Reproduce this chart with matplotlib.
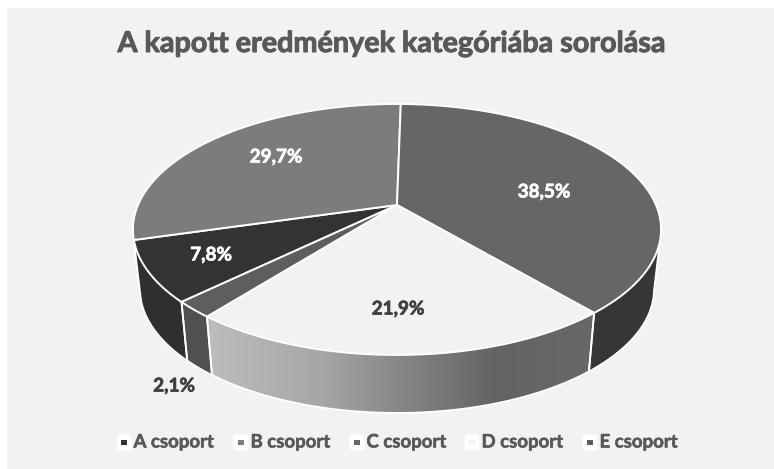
import numpy as np
import matplotlib
matplotlib.use("Agg")
import matplotlib.pyplot as plt
import matplotlib.patheffects as pe
from matplotlib.colors import LinearSegmentedColormap
from matplotlib.patches import Polygon, Rectangle, FancyBboxPatch

title = "A kapott eredmények kategóriába sorolása"
groups = ["A csoport", "B csoport", "C csoport", "D csoport", "E csoport"]
shares = [7.8, 29.7, 38.5, 21.9, 2.1]
share_labels = ["7,8%", "29,7%", "38,5%", "21,9%", "2,1%"]
top_colors = ["#333333", "#7c7c7c", "#666666", "#f2f2f2", "#5e5e5e"]
side_colors = ["#2f2f2f", "#555555", "#363634", None, "#505050"]
legend_colors = ["#333333", "#7c7c7c", "#666666", "#f2f2f2", "#5e5e5e"]
label_colors = ["white", "white", "white", "#404040", "#404040"]

# pie geometry in pixels
cx, cy = 397, 205
rx, ry, k = 259, 120.7, 0.195
start = 226.0
thick_cy, thick_rx, thick_ry = 289, 257, 124
ell_cy, ell_rx, ell_ry = 229.5, 264, 125.5


def top_xy(deg):
    a = np.radians(deg)
    w = 1 + k * np.cos(a)
    return cx + rx * np.sin(a) / w, cy - ry * np.cos(a) / w


def bottom_xy(deg):
    x, y = top_xy(deg)
    return cx + (x - cx) / ell_rx * thick_rx, thick_cy + (y - ell_cy) / ell_ry * thick_ry


def bold(lw, color):
    return [pe.withStroke(linewidth=lw, foreground=color)]


fig = plt.figure(figsize=(7.74, 4.69), dpi=100)
fig.patch.set_facecolor("white")
ax = fig.add_axes([0, 0, 1, 1])
ax.axis("off")
ax.add_patch(Rectangle((7, 8), 767, 461, fc="#f2f2f2", ec="none", zorder=0))

edges = start + np.cumsum([0] + shares) * 3.6
ramp = LinearSegmentedColormap.from_list(
    "ramp", [(0, "#bdbdbd"), (0.3, "#a6a6a6"), (0.5, "#868686"), (0.75, "#636363"), (1, "#686868")])

# side walls, only the part facing the viewer
for i in range(len(shares)):
    for shift in (0, 360):
        b0 = max(edges[i] - shift, 102)
        b1 = min(edges[i + 1] - shift, 254)
        if b1 <= b0:
            continue
        t = np.linspace(b0, b1, 80)
        tx, ty = top_xy(t)
        bx, by = bottom_xy(t)
        pts = np.column_stack([np.r_[tx, bx[::-1]], np.r_[ty, by[::-1]]])
        if side_colors[i] is None:
            poly = Polygon(pts, fc="none", ec="none", zorder=2)
            ax.add_patch(poly)
            grad = np.linspace(0, 1, 256).reshape(1, -1)
            im = ax.imshow(grad, extent=[pts[:, 0].min(), pts[:, 0].max(), 420, 300],
                           cmap=ramp, aspect="auto", zorder=2)
            im.set_clip_path(poly)
        else:
            ax.add_patch(Polygon(pts, fc=side_colors[i], ec="none", zorder=2))
        # white seams and lower rim
        ax.plot(bx, by, color="white", lw=1.3, zorder=3)
        ax.plot([tx[0], bx[0]], [ty[0], by[0]], color="white", lw=1.3, zorder=3)
        ax.plot([tx[-1], bx[-1]], [ty[-1], by[-1]], color="white", lw=1.3, zorder=3)

ax.set_xlim(0, 774)
ax.set_ylim(469, 0)

# top face
for i in range(len(shares)):
    t = np.linspace(edges[i], edges[i + 1], 120)
    tx, ty = top_xy(t)
    pts = np.column_stack([np.r_[cx, tx], np.r_[cy, ty]])
    ax.add_patch(Polygon(pts, fc=top_colors[i], ec="white", lw=1.4, joinstyle="round", zorder=4))

ax.text(392, 44, title, ha="center", va="center", fontsize=20.7, fontweight="bold",
        family="Lato", color="#595959", zorder=6, path_effects=bold(0.7, "#595959"))

label_pos = [(211, 255), (276, 157), (544, 192), (398, 309), (174, 386)]
for pos, s, c in zip(label_pos, share_labels, label_colors):
    ax.text(pos[0], pos[1], s, ha="center", va="center", fontsize=13.6, fontweight="bold",
            family="Lato", color=c, zorder=6, path_effects=bold(0.5, c))

legend_x = [124, 241, 357, 472, 590]
for x, name, c in zip(legend_x, groups, legend_colors):
    ax.add_patch(FancyBboxPatch((x - 6, 436), 12, 13, boxstyle="round,pad=1.5,rounding_size=3",
                                fc="white", ec="none", zorder=5))
    ax.add_patch(Rectangle((x - 3, 440), 6, 5, fc=c, ec="none", zorder=6))
    ax.text(x + 9.5, 442, name, ha="left", va="center", fontsize=13.4, fontweight="bold",
            family="Lato", color="#595959", zorder=6, path_effects=bold(0.4, "#595959"))

fig.savefig("out.png", dpi=100)
